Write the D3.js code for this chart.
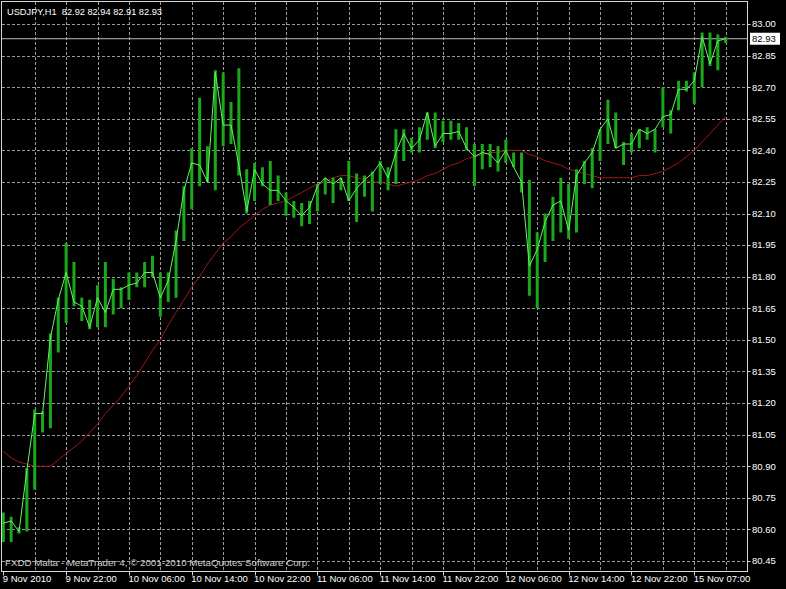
<!DOCTYPE html>
<html>
<head>
<meta charset="utf-8">
<script src="https://cdn.jsdelivr.net/npm/d3@7"></script>
<style>
  html, body { margin: 0; padding: 0; background: #000; }
  svg { display: block; }
  text { font-family: "Liberation Sans", Arial, sans-serif; }
</style>
</head>
<body>
<svg id="chart" width="786" height="589"></svg>
<script>
// ---- data ----
const symbolTitle = "USDJPY,H1  82.92 82.94 82.91 82.93";
const footerText = "FXDD Malta - MetaTrader 4, \u00A9 2001-2010 MetaQuotes Software Corp.";
const currentPrice = 82.93;

const high = [
  80.68, 80.66, 80.61, 80.89, 81.17, 81.16, 81.53, 81.70, 81.96, 81.87,
  81.70, 81.69, 81.76, 81.87, 81.79, 81.75, 81.82, 81.82, 81.87, 81.90,
  81.82, 81.82, 82.02, 82.23, 82.41, 82.65, 82.42, 82.78, 82.77, 82.63,
  82.79, 82.31, 82.34, 82.32, 82.35, 82.28, 82.20, 82.16, 82.15, 82.16,
  82.24, 82.27, 82.27, 82.27, 82.35, 82.29, 82.28, 82.30, 82.35, 82.32,
  82.50, 82.50, 82.46, 82.51, 82.58, 82.58, 82.54, 82.54, 82.53, 82.51,
  82.43, 82.43, 82.43, 82.42, 82.45, 82.39, 82.39, 82.26, 82.01, 82.10,
  82.18, 82.27, 82.24, 82.31, 82.35, 82.41, 82.50, 82.64, 82.58, 82.44,
  82.48, 82.50, 82.51, 82.50, 82.70, 82.59, 82.73, 82.73, 82.77, 82.96,
  82.96, 82.95, 82.94
];
const low = [
  80.54, 80.54, 80.58, 80.59, 80.79, 81.06, 81.08, 81.44, 81.58, 81.66,
  81.59, 81.55, 81.56, 81.56, 81.62, 81.65, 81.69, 81.75, 81.75, 81.80,
  81.61, 81.68, 81.70, 81.97, 82.12, 82.23, 82.25, 82.21, 82.42, 82.43,
  82.28, 82.10, 82.16, 82.23, 82.14, 82.16, 82.09, 82.08, 82.04, 82.05,
  82.11, 82.19, 82.15, 82.21, 82.16, 82.06, 82.18, 82.11, 82.24, 82.21,
  82.24, 82.35, 82.39, 82.39, 82.45, 82.41, 82.44, 82.45, 82.45, 82.40,
  82.23, 82.31, 82.32, 82.30, 82.34, 82.32, 82.20, 81.71, 81.65, 81.87,
  81.97, 82.01, 81.98, 82.01, 82.24, 82.22, 82.35, 82.43, 82.41, 82.33,
  82.39, 82.41, 82.45, 82.39, 82.51, 82.48, 82.59, 82.68, 82.62, 82.70,
  82.80, 82.78, 82.91
];
const close = [
  80.63, 80.64, 80.59, 80.88, 81.15, 81.15, 81.51, 81.69, 81.82, 81.68,
  81.66, 81.56, 81.70, 81.63, 81.74, 81.74, 81.76, 81.77, 81.82, 81.82,
  81.70, 81.78, 81.97, 82.21, 82.34, 82.33, 82.25, 82.77, 82.52, 82.52,
  82.33, 82.11, 82.31, 82.24, 82.21, 82.21, 82.16, 82.13, 82.09, 82.13,
  82.23, 82.27, 82.24, 82.27, 82.16, 82.22, 82.26, 82.29, 82.34, 82.27,
  82.39, 82.48, 82.41, 82.45, 82.58, 82.42, 82.48, 82.48, 82.49, 82.41,
  82.37, 82.39, 82.38, 82.34, 82.40, 82.32, 82.25, 81.85, 81.93, 82.06,
  82.14, 82.16, 82.02, 82.28, 82.34, 82.39, 82.50, 82.55, 82.41, 82.43,
  82.43, 82.50, 82.48, 82.50, 82.56, 82.57, 82.69, 82.69, 82.73, 82.94,
  82.81, 82.92, 82.93
];
const movingAverage = [
  80.97, 80.94, 80.92, 80.91, 80.90, 80.90, 80.90, 80.93, 80.96, 80.99,
  81.02, 81.06, 81.10, 81.15, 81.19, 81.23, 81.28, 81.33, 81.39, 81.45,
  81.50, 81.57, 81.63, 81.69, 81.75, 81.80, 81.86, 81.91, 81.96, 81.99,
  82.03, 82.06, 82.09, 82.12, 82.14, 82.15, 82.16, 82.18, 82.20, 82.22,
  82.24, 82.25, 82.27, 82.28, 82.28, 82.27, 82.26, 82.25, 82.25, 82.24,
  82.23, 82.24, 82.25, 82.26, 82.28, 82.29, 82.31, 82.33, 82.34, 82.36,
  82.37, 82.38, 82.39, 82.39, 82.40, 82.40, 82.40, 82.38, 82.37, 82.35,
  82.34, 82.33, 82.31, 82.30, 82.29, 82.28, 82.27, 82.27, 82.27, 82.27,
  82.27, 82.28, 82.28, 82.29, 82.30, 82.32, 82.34, 82.37, 82.40, 82.44,
  82.48, 82.52, 82.56
];
const timeTickIndex = [0, 8, 16, 24, 32, 40, 48, 56, 64, 72, 80, 88];
const timeTickLabels = [
  "9 Nov 2010", "9 Nov 22:00", "10 Nov 06:00", "10 Nov 14:00", "10 Nov 22:00",
  "11 Nov 06:00", "11 Nov 14:00", "11 Nov 22:00", "12 Nov 06:00", "12 Nov 14:00",
  "12 Nov 22:00", "15 Nov 07:00"
];
const priceTicks = [80.45, 80.60, 80.75, 80.90, 81.05, 81.20, 81.35, 81.50, 81.65,
  81.80, 81.95, 82.10, 82.25, 82.40, 82.55, 82.70, 82.85, 83.00];
const gridEvery = 4;

// ---- layout ----
const svg = d3.select("#chart");
const plot = { left: 1.5, top: 1.5, right: 747.5, bottom: 571.5 };
const barStep = 7.852;
const x = d3.scaleLinear().domain([0, 92]).range([3.3, 3.3 + 92 * barStep]);
const y = d3.scaleLinear().domain([80.45, 83.00]).range([561, 24]);

const gridColor = "#9a9a9a";
const fg = "#ffffff";

svg.append("defs").append("clipPath").attr("id", "clip")
  .append("rect").attr("x", plot.left).attr("y", plot.top)
  .attr("width", plot.right - plot.left).attr("height", plot.bottom - plot.top);

// grid
const grid = svg.append("g").attr("stroke", gridColor).attr("stroke-dasharray", "3,2")
  .attr("stroke-width", 1).attr("shape-rendering", "crispEdges");
grid.selectAll("line.h").data(priceTicks).join("line")
  .attr("x1", plot.left).attr("x2", plot.right)
  .attr("y1", d => Math.round(y(d)) + 0.5).attr("y2", d => Math.round(y(d)) + 0.5);
const vIdx = d3.range(gridEvery, 93, gridEvery);
grid.selectAll("line.v").data(vIdx).join("line")
  .attr("y1", plot.top).attr("y2", plot.bottom)
  .attr("x1", d => Math.round(x(d)) + 0.5).attr("x2", d => Math.round(x(d)) + 0.5);

// current price line
svg.append("line")
  .attr("x1", plot.left).attr("x2", plot.right)
  .attr("y1", y(currentPrice)).attr("y2", y(currentPrice))
  .attr("stroke", "#bdbdbd").attr("stroke-width", 1);

const g = svg.append("g").attr("clip-path", "url(#clip)");

// moving average
g.append("path")
  .attr("d", d3.line().x((d, i) => x(i)).y(d => y(d))(movingAverage))
  .attr("fill", "none").attr("stroke", "#a41616").attr("stroke-width", 1);

// high-low bars
g.selectAll("line.bar").data(high).join("line")
  .attr("class", "bar")
  .attr("x1", (d, i) => x(i)).attr("x2", (d, i) => x(i))
  .attr("y1", d => y(d)).attr("y2", (d, i) => y(low[i]))
  .attr("stroke", "#1ca81c").attr("stroke-width", 3);

// close line
g.append("path")
  .attr("d", d3.line().x((d, i) => x(i)).y(d => y(d))(close))
  .attr("fill", "none").attr("stroke", "#62f562").attr("stroke-width", 1);

// frame
svg.append("rect")
  .attr("x", plot.left).attr("y", plot.top)
  .attr("width", plot.right - plot.left).attr("height", plot.bottom - plot.top)
  .attr("fill", "none").attr("stroke", "#d8d8d8").attr("stroke-width", 1);

// price axis
const yAxis = svg.append("g");
yAxis.selectAll("line").data(priceTicks).join("line")
  .attr("x1", plot.right).attr("x2", plot.right + 3)
  .attr("y1", d => Math.round(y(d)) + 0.5).attr("y2", d => Math.round(y(d)) + 0.5)
  .attr("stroke", "#d8d8d8");
yAxis.selectAll("text").data(priceTicks).join("text")
  .attr("x", 752).attr("y", d => y(d)).attr("dy", "0.35em")
  .attr("fill", fg).attr("font-size", "9.5px")
  .text(d => d.toFixed(2));

// current price label
svg.append("rect").attr("x", 750).attr("y", y(currentPrice) - 6)
  .attr("width", 30).attr("height", 12).attr("fill", "#ffffff");
svg.append("text").attr("x", 752).attr("y", y(currentPrice)).attr("dy", "0.35em")
  .attr("fill", "#000").attr("font-size", "9.5px").text(currentPrice.toFixed(2));

// time axis
const xAxis = svg.append("g");
xAxis.selectAll("line").data(timeTickIndex).join("line")
  .attr("x1", d => Math.round(x(d)) + 0.5).attr("x2", d => Math.round(x(d)) + 0.5)
  .attr("y1", plot.bottom).attr("y2", plot.bottom + 4)
  .attr("stroke", "#d8d8d8");
xAxis.selectAll("text").data(timeTickIndex).join("text")
  .attr("x", d => x(d) - 0.5).attr("y", 582)
  .attr("fill", fg).attr("font-size", "9.5px")
  .text((d, i) => timeTickLabels[i]);

// titles
svg.append("text").attr("x", 7).attr("y", 15)
  .attr("fill", fg).attr("font-size", "9.5px")
  .style("white-space", "pre")
  .attr("textLength", 155).attr("lengthAdjust", "spacingAndGlyphs")
  .text(symbolTitle);
svg.append("text").attr("x", 5).attr("y", 566)
  .attr("fill", "#d0d0d0").attr("font-size", "9.5px")
  .attr("textLength", 305).attr("lengthAdjust", "spacingAndGlyphs")
  .text(footerText);
</script>
</body>
</html>
